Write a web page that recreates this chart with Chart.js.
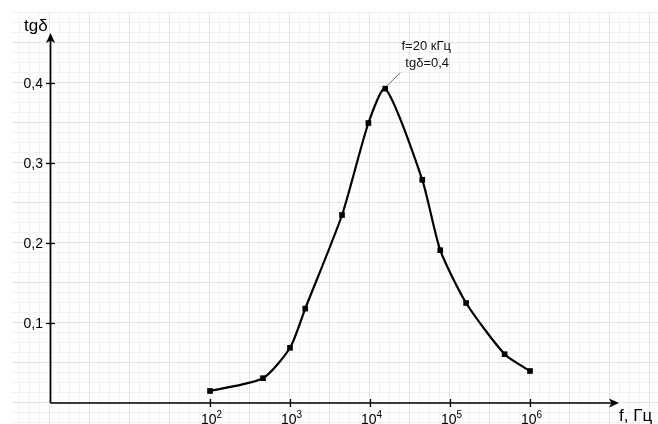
<!DOCTYPE html>
<html>
<head>
<meta charset="utf-8">
<script src="https://cdn.jsdelivr.net/npm/chart.js@4"></script>
<style>
  html, body { margin: 0; padding: 0; background: #fff; }
  #wrap { width: 658px; height: 424px; }
</style>
</head>
<body>
<div id="wrap"><canvas id="c" width="658" height="424"></canvas></div>
<script>
// ---- data ----
const freq = [100, 460, 1000, 1550, 4470, 9550, 15500, 45000, 75500, 159000, 482000, 1000000];
const tgDelta = [0.015, 0.031, 0.069, 0.118, 0.235, 0.350, 0.393, 0.279, 0.191, 0.125, 0.061, 0.040];
const xTickValues = [1e2, 1e3, 1e4, 1e5, 1e6];
const xTickBase = '10';
const xTickExponents = ['2', '3', '4', '5', '6'];
const yTickValues = [0.1, 0.2, 0.3, 0.4];
const yTickLabels = ['0,1', '0,2', '0,3', '0,4'];
const yAxisTitle = 'tgδ';
const xAxisTitle = 'f, Гц';
const annotationLines = ['f=20 кГц', 'tgδ=0,4'];
const annotationPoint = { x: 15500, y: 0.393 };

const FONT = '"Liberation Sans", Arial, Helvetica, sans-serif';

const gridPlugin = {
  id: 'paperGrid',
  beforeDraw(chart) {
    const ctx = chart.ctx;
    const xs = chart.scales.x, ys = chart.scales.y;
    const step = (xs.getPixelForValue(10) - xs.getPixelForValue(1)) / 8;
    const ox = Math.round(xs.getPixelForValue(1)) - 1;
    const oy = Math.round(ys.getPixelForValue(0)) - 1;
    ctx.save();
    ctx.fillStyle = '#fff';
    ctx.fillRect(0, 0, chart.width, chart.height);
    ctx.beginPath();
    ctx.rect(12, 12, chart.width - 12, chart.height - 12);
    ctx.clip();
    ctx.lineWidth = 1;
    for (let pass = 0; pass < 2; pass++) {
      ctx.strokeStyle = pass === 0 ? '#f2f2f2' : '#e2e2e2';
      ctx.beginPath();
      for (let k = -10; k < 80; k++) {
        const major = ((k % 4) + 4) % 4 === 0;
        if ((pass === 1) !== major) continue;
        const x = ox + k * step + 0.5;
        if (x >= 0 && x <= chart.width) { ctx.moveTo(x, 0); ctx.lineTo(x, chart.height); }
        const y = oy - k * step + 0.5;
        if (y >= 0 && y <= chart.height) { ctx.moveTo(0, y); ctx.lineTo(chart.width, y); }
      }
      ctx.stroke();
    }
    ctx.restore();
  },
  beforeDatasetsDraw(chart) {
    const ctx = chart.ctx;
    const xs = chart.scales.x, ys = chart.scales.y;
    const x0 = xs.getPixelForValue(1) + 0.5;
    const y0 = ys.getPixelForValue(0);
    ctx.save();
    ctx.strokeStyle = '#000';
    ctx.fillStyle = '#000';
    ctx.lineWidth = 1.7;
    // y axis
    ctx.beginPath();
    ctx.moveTo(x0, y0); ctx.lineTo(x0, 40); ctx.stroke();
    ctx.beginPath();
    ctx.moveTo(x0, 33); ctx.lineTo(x0 - 4.5, 43); ctx.lineTo(x0, 40.5); ctx.lineTo(x0 + 4.5, 43); ctx.closePath(); ctx.fill();
    // x axis
    ctx.beginPath();
    ctx.moveTo(x0, y0); ctx.lineTo(612, y0); ctx.stroke();
    ctx.beginPath();
    ctx.moveTo(619, y0); ctx.lineTo(609, y0 - 4.5); ctx.lineTo(611.5, y0); ctx.lineTo(609, y0 + 4.5); ctx.closePath(); ctx.fill();
    // y ticks
    ctx.lineWidth = 1.3;
    ctx.font = '14px ' + FONT;
    ctx.textAlign = 'right';
    ctx.textBaseline = 'middle';
    yTickValues.forEach((v, i) => {
      const y = Math.round(ys.getPixelForValue(v)) + 0.5;
      ctx.beginPath(); ctx.moveTo(x0 - 4.5, y); ctx.lineTo(x0 + 4.5, y); ctx.stroke();
      ctx.fillText(yTickLabels[i], 43, y + 0.5);
    });
    // x ticks
    xTickValues.forEach((v, i) => {
      const x = Math.round(xs.getPixelForValue(v)) + 0.5;
      ctx.beginPath(); ctx.moveTo(x, y0 - 4); ctx.lineTo(x, y0 + 4); ctx.stroke();
      ctx.font = '14px ' + FONT;
      const wb = ctx.measureText(xTickBase).width;
      ctx.font = '10px ' + FONT;
      const we = ctx.measureText(xTickExponents[i]).width;
      const left = x - (wb + we) / 2 + 1;
      ctx.textAlign = 'left';
      ctx.textBaseline = 'alphabetic';
      ctx.font = '14px ' + FONT;
      ctx.fillText(xTickBase, left, 424);
      ctx.font = '10px ' + FONT;
      ctx.fillText(xTickExponents[i], left + wb, 418);
    });
    // axis titles
    ctx.font = '17px ' + FONT;
    ctx.textAlign = 'left';
    ctx.textBaseline = 'alphabetic';
    ctx.fillText(yAxisTitle, 24, 31);
    ctx.fillText(xAxisTitle, 619, 421);
    ctx.restore();
  },
  afterDraw(chart) {
    const ctx = chart.ctx;
    const xs = chart.scales.x, ys = chart.scales.y;
    const px = xs.getPixelForValue(annotationPoint.x);
    const py = ys.getPixelForValue(annotationPoint.y);
    ctx.save();
    ctx.strokeStyle = '#666';
    ctx.lineWidth = 1;
    ctx.beginPath(); ctx.moveTo(px + 2, py - 3); ctx.lineTo(px + 15, py - 16); ctx.stroke();
    ctx.fillStyle = '#111';
    ctx.font = '13px ' + FONT;
    ctx.textAlign = 'center';
    ctx.textBaseline = 'alphabetic';
    ctx.fillText(annotationLines[0], px + 41, 50);
    ctx.fillText(annotationLines[1], px + 42, 67);
    ctx.restore();
  }
};

new Chart(document.getElementById('c'), {
  type: 'line',
  data: {
    datasets: [{
      data: freq.map((f, i) => ({ x: f, y: tgDelta[i] })),
      borderColor: '#000',
      borderWidth: 2.2,
      pointStyle: 'rect',
      pointRadius: 4,
      pointBackgroundColor: '#000',
      pointBorderColor: '#000',
      pointBorderWidth: 0,
      tension: 0.22,
      fill: false,
      clip: false
    }]
  },
  options: {
    responsive: false,
    animation: false,
    events: [],
    layout: { padding: { left: 50, right: 48, top: 43, bottom: 21 } },
    plugins: { legend: { display: false }, tooltip: { enabled: false } },
    scales: {
      x: { type: 'logarithmic', min: 1, max: 1e7, display: false },
      y: { type: 'linear', min: 0, max: 0.45, display: false }
    }
  },
  plugins: [gridPlugin]
});
</script>
</body>
</html>
